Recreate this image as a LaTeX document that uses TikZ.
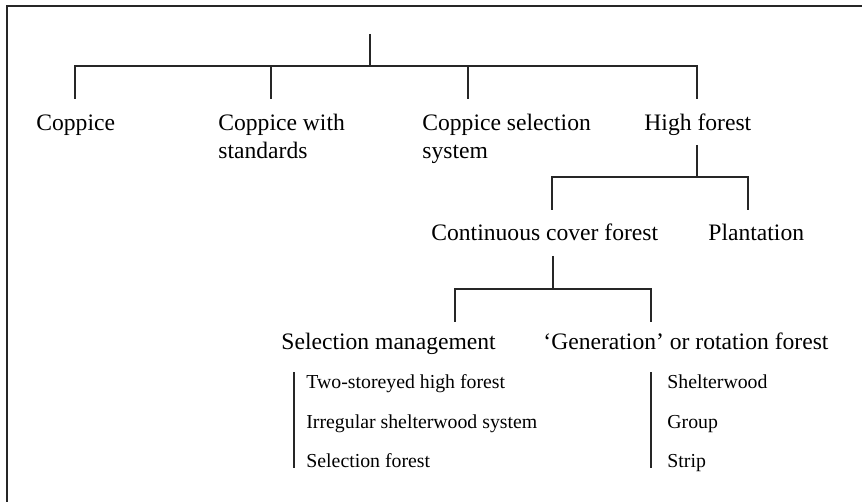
\documentclass[tikz,border=0pt]{standalone}
\usepackage{fontspec}
\setmainfont{Liberation Serif}
\begin{document}
\begin{tikzpicture}[x=0.5pt,y=-0.5pt,
  conn/.style={line width=1pt,color=black!85},
  frameline/.style={line width=1pt,color=black!85},
  lab/.style={inner sep=0pt,anchor=base west,font=\fontsize{11.8}{14}\selectfont},
  item/.style={inner sep=0pt,anchor=base west,font=\fontsize{9.9}{12}\selectfont}]
\useasboundingbox (0,0) rectangle (862,502);
% frame
\coordinate (fa) at (7,502);
\coordinate (fb) at (7,6);
\coordinate (fc) at (862,6);
\draw[frameline] (fa) -- (fb) -- (fc);
% labels
\node[lab] (cop) at (36,131) {Coppice};
\node[lab,align=left,anchor=base west] (cws) at (218,131) {Coppice with};
\node[lab] (cws2) at (218,159) {standards};
\node[lab] (css) at (422,131) {Coppice selection};
\node[lab] (css2) at (422,159) {system};
\node[lab] (hf) at (644,131) {High forest};
\node[lab] (ccf) at (431,241) {Continuous cover forest};
\node[lab] (pl) at (708,241) {Plantation};
\node[lab] (sm) at (281,350) {Selection management};
\node[lab] (gen) at (543,350) {`Generation' or rotation forest};
\node[item] (i1) at (306,388) {Two-storeyed high forest};
\node[item] (i2) at (306,428) {Irregular shelterwood system};
\node[item] (i3) at (306,467) {Selection forest};
\node[item] (j1) at (667,388) {Shelterwood};
\node[item] (j2) at (667,428) {Group};
\node[item] (j3) at (667,467) {Strip};
% level 1
\coordinate (root) at (370,34);
\coordinate (bus1) at (370,66);
\coordinate (t1) at (75,99);
\coordinate (t2) at (271,99);
\coordinate (t3) at (468,99);
\coordinate (t4) at (697,99);
\draw[conn] (root) -- (bus1);
\draw[conn] (t1) -- (t1 |- bus1) -- (t4 |- bus1) -- (t4);
\draw[conn] (t2) -- (t2 |- bus1);
\draw[conn] (t3) -- (t3 |- bus1);
% level 2
\coordinate (hfs) at (697,145);
\coordinate (bus2) at (697,177);
\coordinate (u1) at (552,210);
\coordinate (u2) at (748,210);
\draw[conn] (hfs) -- (bus2);
\draw[conn] (u1) -- (u1 |- bus2) -- (u2 |- bus2) -- (u2);
% level 3
\coordinate (ccs) at (553,256);
\coordinate (bus3) at (553,289);
\coordinate (v1) at (455,322);
\coordinate (v2) at (651,322);
\draw[conn] (ccs) -- (bus3);
\draw[conn] (v1) -- (v1 |- bus3) -- (v2 |- bus3) -- (v2);
% bars
\coordinate (la) at (294,372);
\coordinate (lb) at (294,468);
\coordinate (ra) at (651,372);
\coordinate (rb) at (651,468);
\draw[conn] (la) -- (lb);
\draw[conn] (ra) -- (rb);
\end{tikzpicture}
\end{document}
